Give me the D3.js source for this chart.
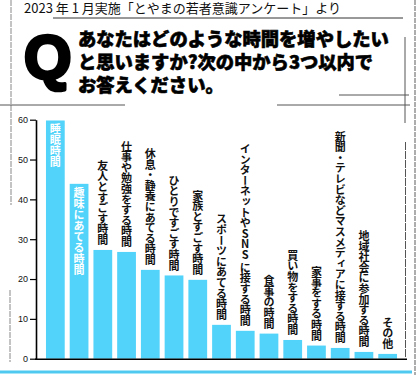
<!DOCTYPE html>
<html>
<head>
<meta charset="utf-8">
<script src="https://cdn.jsdelivr.net/npm/d3@7"></script>
<style>
  html, body { margin: 0; padding: 0; background: #fff; }
  svg { display: block; font-family: "Noto Sans CJK JP", "Noto Sans", sans-serif; }
</style>
</head>
<body>
<div id="chart"></div>
<script>
// survey items and share of answers (%)
const categories = [
    "睡眠時間", "趣味にあてる時間", "友人とすごす時間", "仕事や勉強をする時間",
    "休息・静養にあてる時間", "ひとりですごす時間", "家族とすごす時間", "スポーツにあてる時間",
    "インターネットやSNS\u2005に接する時間", "食事の時間", "買い物をする時間", "家事をする時間",
    "新聞・テレビなどマスメディアに接する時間", "地域社会に参加する時間", "その他"
];
const values = [59.8, 43.9, 27.3, 26.8, 22.3, 20.9, 19.8, 8.5, 7.0, 6.3, 4.7, 3.3, 2.7, 1.7, 1.2];
const yTicks = [0, 10, 20, 30, 40, 50, 60];
const source = "2023 年 1 月実施「とやまの若者意識アンケート」より";
const questionLines = ["あなたはどのような時間を増やしたい", "と思いますか?次の中から3つ以内で", "お答えください。"];

const data = categories.map((c, i) => ({name: c, value: values[i]}));

const width = 416, height = 375;
const svg = d3.select("#chart").append("svg")
    .attr("width", width)
    .attr("height", height);

// sketchy frame lines
const frame = svg.append("g").attr("fill", "none");
frame.append("line").attr("x1", 11).attr("x2", 11).attr("y1", 0).attr("y2", 205)
    .attr("stroke", "#888").attr("stroke-width", 1).attr("stroke-dasharray", "6,1");
frame.append("line").attr("x1", 10).attr("x2", 10).attr("y1", 290).attr("y2", 362)
    .attr("stroke", "#888").attr("stroke-width", 1).attr("stroke-dasharray", "6,1");
frame.append("line").attr("x1", 415).attr("x2", 415).attr("y1", 0).attr("y2", 375)
    .attr("stroke", "#777").attr("stroke-width", 1.2).attr("stroke-dasharray", "5,1");
frame.append("line").attr("x1", 405).attr("x2", 405).attr("y1", 37).attr("y2", 123)
    .attr("stroke", "#555").attr("stroke-width", 1);
frame.append("line").attr("x1", 405.5).attr("x2", 405.5).attr("y1", 142).attr("y2", 357)
    .attr("stroke", "#555").attr("stroke-width", 1).attr("stroke-dasharray", "8,1");
frame.append("line").attr("x1", 53).attr("x2", 403).attr("y1", 18).attr("y2", 18)
    .attr("stroke", "#333").attr("stroke-width", 1);
frame.append("line").attr("x1", 0).attr("x2", 125).attr("y1", 105).attr("y2", 105)
    .attr("stroke", "#555").attr("stroke-width", 1);
frame.append("line").attr("x1", 277).attr("x2", 410).attr("y1", 105).attr("y2", 105)
    .attr("stroke", "#555").attr("stroke-width", 1);
frame.append("line").attr("x1", 339).attr("x2", 409).attr("y1", 95).attr("y2", 95)
    .attr("stroke", "#555").attr("stroke-width", 1);

// header
svg.append("text")
    .attr("x", 24).attr("y", 13)
    .attr("font-size", 13)
    .attr("fill", "#111")
    .text(source);

svg.append("text")
    .attr("x", 24).attr("y", 78)
    .attr("font-family", "'Liberation Sans', Arial, sans-serif")
    .attr("font-weight", 700)
    .attr("font-size", 61)
    .attr("fill", "#000")
    .attr("stroke", "#000")
    .attr("stroke-width", 3.5)
    .attr("stroke-linejoin", "round")
    .text("Q");

// question, one text with a tspan per line
svg.append("text")
    .attr("font-size", 18.3)
    .attr("font-weight", 900)
    .attr("fill", "#000")
    .attr("stroke", "#000")
    .attr("stroke-width", 0.6)
    .selectAll("tspan")
    .data(questionLines)
    .join("tspan")
    .attr("x", 78)
    .attr("y", (d, i) => 45.5 + i * 23)
    .text(d => d);

// chart
const x = d3.scaleBand()
    .domain(categories)
    .range([36, 407])
    .paddingInner(0.21)
    .paddingOuter(0.42);

const y = d3.scaleLinear()
    .domain([0, 60])
    .range([358.7, 119.7]);

svg.append("g")
    .selectAll("rect")
    .data(data)
    .join("rect")
    .attr("x", d => x(d.name))
    .attr("y", d => y(d.value))
    .attr("width", x.bandwidth())
    .attr("height", d => y(0) - y(d.value))
    .attr("fill", "#52d3fa");

const yAxis = d3.axisLeft(y)
    .tickValues(yTicks)
    .tickSize(6)
    .tickSizeOuter(0)
    .tickPadding(2);

svg.append("g")
    .attr("transform", "translate(36,0)")
    .call(yAxis)
    .call(g => g.select(".domain").attr("stroke-width", 1.6))
    .call(g => g.selectAll(".tick line").attr("stroke-width", 1.2))
    .call(g => g.selectAll(".tick text")
        .attr("font-family", "'Liberation Sans', Arial, sans-serif")
        .attr("font-size", 9)
        .attr("fill", "#111"));

svg.append("line")
    .attr("x1", 35).attr("x2", 407)
    .attr("y1", y(0) + 0.5).attr("y2", y(0) + 0.5)
    .attr("stroke", "#000").attr("stroke-width", 1.6);

// bar labels, written vertically
svg.append("g")
    .selectAll("text")
    .data(data)
    .join("text")
    .attr("x", d => x(d.name) + x.bandwidth() / 2)
    .attr("y", d => d.value > 40 ? y(d.value) + 3 : y(d.value) - 5)
    .attr("text-anchor", d => d.value > 40 ? "start" : "end")
    .style("writing-mode", "vertical-rl")
    .style("text-orientation", "upright")
    .attr("font-size", 11)
    .attr("font-weight", 700)
    .attr("letter-spacing", d => d.value > 40 ? 0 : -0.4)
    .attr("fill", d => d.value > 40 ? "#fff" : "#111")
    .text(d => d.name);

// bottom accent line
svg.append("line")
    .attr("x1", 0).attr("x2", 412)
    .attr("y1", 372).attr("y2", 372)
    .attr("stroke", "#4fc9f0").attr("stroke-width", 3);
</script>
</body>
</html>
